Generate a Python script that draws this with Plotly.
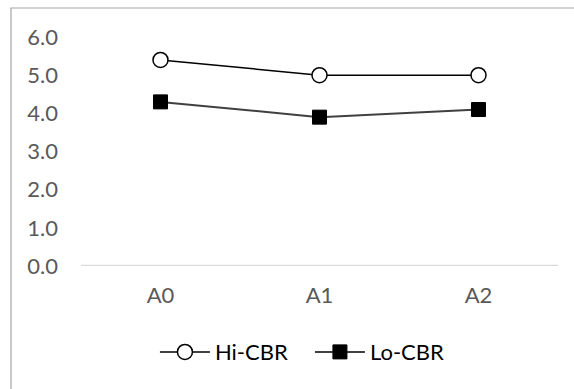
import plotly.graph_objects as go

categories = ["A0", "A1", "A2"]
hi_cbr = [5.4, 5.0, 5.0]
lo_cbr = [4.3, 3.9, 4.1]
y_ticks = [0, 1, 2, 3, 4, 5, 6]
y_tick_labels = ["0.0", "1.0", "2.0", "3.0", "4.0", "5.0", "6.0"]

FONT = "Lato, Carlito, Calibri, sans-serif"

fig = go.Figure()
fig.add_trace(go.Scatter(
    x=categories, y=hi_cbr, name="Hi-CBR", mode="lines+markers",
    line=dict(color="#000000", width=1.5),
    marker=dict(symbol="circle", size=15, color="#ffffff",
                line=dict(color="#000000", width=1.5)),
))
fig.add_trace(go.Scatter(
    x=categories, y=lo_cbr, name="Lo-CBR", mode="lines+markers",
    line=dict(color="#404040", width=2),
    marker=dict(symbol="square", size=14, color="#000000",
                line=dict(color="#000000", width=1)),
))

fig.update_layout(
    width=574, height=389,
    margin=dict(l=81, r=16, t=37, b=123),
    paper_bgcolor="#ffffff", plot_bgcolor="#ffffff",
    font=dict(family=FONT, size=22, color="#595959"),
    showlegend=True,
    legend=dict(orientation="h", x=0.155, y=-0.376, xanchor="left",
                yanchor="middle", font=dict(size=22, color="#000000"),
                itemwidth=50, entrywidth=90, bgcolor="rgba(0,0,0,0)"),
    xaxis=dict(type="category", range=[-0.5, 2.5], showgrid=False,
               showline=False, zeroline=False, ticks="",
               ticklabelstandoff=14),
    yaxis=dict(range=[0, 6], tickvals=y_ticks, ticktext=y_tick_labels,
               showgrid=False, zeroline=False, showline=False, ticks="",
               ticklabelstandoff=22),
    shapes=[
        dict(type="line", xref="paper", yref="y", x0=0, x1=1, y0=0, y1=0,
             line=dict(color="#d9d9d9", width=2.5), layer="below"),
        dict(type="rect", xref="paper", yref="paper",
             x0=-0.1468, x1=1.3, y0=-1.0, y1=1.1266,
             line=dict(color="#a6a6a6", width=1.2), layer="below"),
    ],
)

fig.write_html("out.html")
